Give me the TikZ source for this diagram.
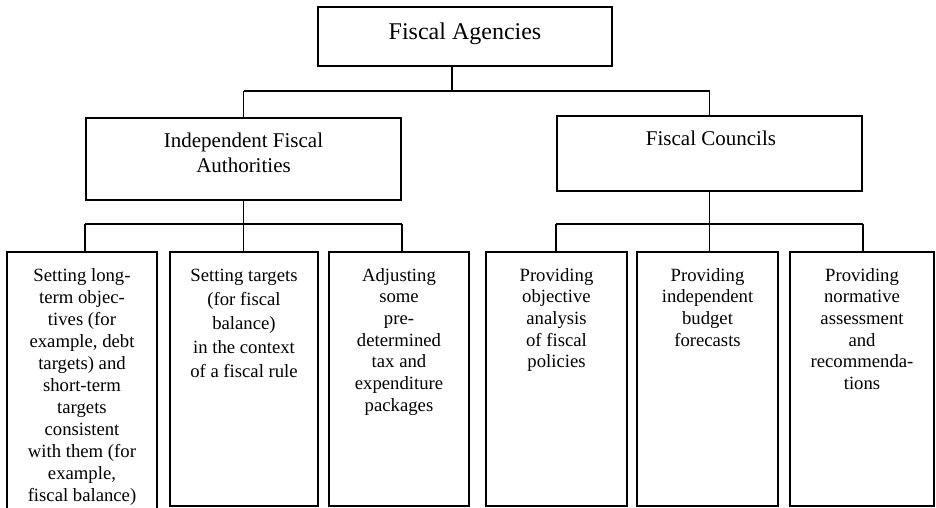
\documentclass[tikz,border=0pt]{standalone}
\usepackage{fontspec}
\setmainfont{Liberation Serif}
\newcommand{\mytxt}[2]{\parbox[t]{#1}{\centering #2}}
\tikzset{
  box/.style={draw=black, line width=1.6pt, inner sep=0pt, fill=white},
  conn/.style={draw=black, line width=1.5pt},
  topbar/.style={draw=black, line width=2pt},
  lowbar/.style={draw=black, line width=2.8pt},
  txt/.style={anchor=base, inner sep=0pt},
  bigtxt/.style={txt, font=\fontsize{24}{28}\selectfont},
  midtxt/.style={txt, font=\fontsize{21}{25}\selectfont},
  smalltxt/.style={txt, font=\fontsize{18.7}{21.7}\selectfont},
}
\begin{document}
\begin{tikzpicture}[x=1pt,y=-1pt]
\useasboundingbox (0,0) rectangle (936,508);
% boxes
\node[box, minimum width=294pt, minimum height=59pt] (fa) at (465,36.5) {};
\node[box, minimum width=315pt, minimum height=82pt] (ifa) at (243.5,159) {};
\node[box, minimum width=305pt, minimum height=75pt] (fc) at (709.5,153.5) {};
\node[box, minimum width=150pt, minimum height=262pt] (b1) at (82,383) {};
\node[box, minimum width=148pt, minimum height=254pt] (b2) at (244,379) {};
\node[box, minimum width=140pt, minimum height=254pt] (b3) at (399,379) {};
\node[box, minimum width=141pt, minimum height=254pt] (b4) at (556.5,379) {};
\node[box, minimum width=141pt, minimum height=254pt] (b5) at (707.5,379) {};
\node[box, minimum width=144pt, minimum height=254pt] (b6) at (862,379) {};
% texts
\node[bigtxt] (tfa) at (465,40) {Fiscal Agencies};
\node[midtxt] (tifa) at (243.5,147) {\mytxt{300pt}{Independent Fiscal\\Authorities}};
\node[midtxt] (tfc) at (711,145) {\mytxt{290pt}{Fiscal Councils}};
\node[smalltxt] (t1) at (82,281) {\mytxt{145pt}{\fontsize{18.7}{22}\selectfont Setting long-\\term objec-\\tives (for\\example, debt\\targets) and\\short-term\\targets\\consistent\\with them (for\\example,\\fiscal balance)}};
\node[smalltxt] (t2) at (244,281) {\mytxt{145pt}{\fontsize{18.7}{24}\selectfont Setting targets\\(for fiscal\\balance)\\in the context\\of a fiscal rule}};
\node[smalltxt] (t3) at (399,281) {\mytxt{138pt}{Adjusting\\some\\pre-\\determined\\tax and\\expenditure\\packages}};
\node[smalltxt] (t4) at (556.5,281) {\mytxt{138pt}{Providing\\objective\\analysis\\of fiscal\\policies}};
\node[smalltxt] (t5) at (707.5,281) {\mytxt{138pt}{Providing\\independent\\budget\\forecasts}};
\node[smalltxt] (t6) at (862,281) {\mytxt{140pt}{Providing\\normative\\assessment\\and\\recommenda-\\tions}};
% connectors level 1
\coordinate (j0) at (452,91);
\draw[conn] (fa.south -| j0) -- (j0);
\draw[topbar] (ifa.north |- j0) -- (fc.north |- j0);
\draw[conn] (ifa.north |- j0) -- (ifa.north);
\draw[conn] (fc.north |- j0) -- (fc.north);
% connectors level 2
\coordinate (lb) at (0,224);
\draw[conn] (ifa.south) -- (ifa.south |- lb);
\draw[lowbar] (ifa.south west |- lb) -- (ifa.south east |- lb);
\draw[conn] (ifa.south west |- lb) -- (ifa.south west |- b1.north);
\draw[conn] (ifa.south |- lb) -- (ifa.south |- b2.north);
\draw[conn] (ifa.south east |- lb) -- (ifa.south east |- b3.north);
\draw[conn] (fc.south) -- (fc.south |- lb);
\draw[lowbar] (fc.south west |- lb) -- (fc.south east |- lb);
\draw[conn] (fc.south west |- lb) -- (fc.south west |- b4.north);
\draw[conn] (fc.south |- lb) -- (fc.south |- b5.north);
\draw[conn] (fc.south east |- lb) -- (fc.south east |- b6.north);
\end{tikzpicture}
\end{document}
